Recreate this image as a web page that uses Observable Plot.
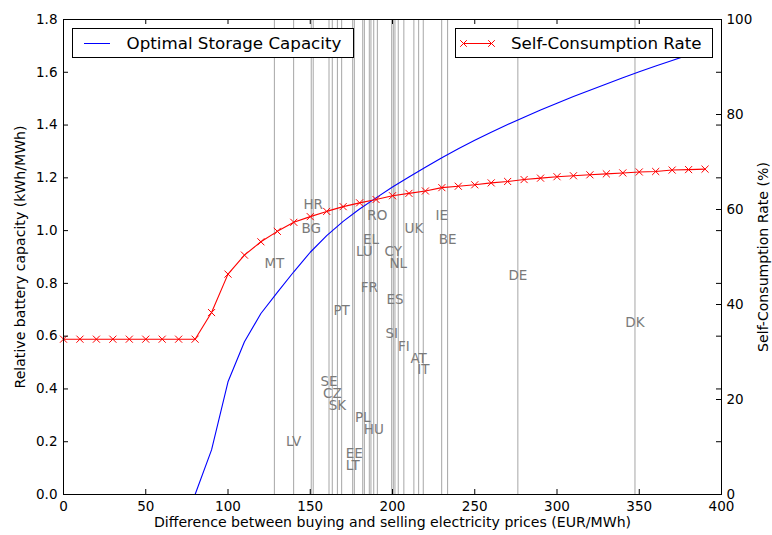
<!DOCTYPE html>
<html><head><meta charset="utf-8">
<script src="https://cdn.jsdelivr.net/npm/d3@7"></script>
<script src="https://cdn.jsdelivr.net/npm/@observablehq/plot@0.6"></script>
<style>
body{margin:0;background:#fff;font-family:"DejaVu Sans",sans-serif;}
#wrap{position:relative;width:772px;height:535px;}
.legend{position:absolute;background:#fff;border:1px solid #000;box-sizing:border-box;font-size:16.7px;color:#000;font-family:"DejaVu Sans",sans-serif;}
.legend svg{position:absolute;left:0;top:0;}
.legend span{position:absolute;white-space:nowrap;line-height:1;}
</style></head><body><div id="wrap"></div>
<script>
// price difference (EUR/MWh)
const priceDiff = [0,10,20,30,40,50,60,70,80,90,100,110,120,130,140,150,160,170,180,190,200,210,220,230,240,250,260,270,280,290,300,310,320,330,340,350,360,370,380,390];
// optimal storage capacity (kWh/MWh) - left axis
const storageCapacity = [0,0,0,0,0,0,0,0,0,0.169,0.427,0.579,0.686,0.766,0.844,0.918,0.981,1.035,1.082,1.124,1.165,1.203,1.24,1.276,1.31,1.342,1.373,1.402,1.43,1.457,1.483,1.508,1.532,1.556,1.579,1.602,1.624,1.645,1.666,1.686];
// self-consumption rate (%) - right axis
const selfConsumption = [32.7,32.7,32.7,32.7,32.7,32.7,32.7,32.7,32.7,38.3,46.4,50.4,53.2,55.4,57.3,58.5,59.6,60.6,61.4,62.1,62.9,63.4,63.9,64.6,64.9,65.2,65.6,65.9,66.3,66.6,66.9,67.1,67.3,67.5,67.7,67.9,68.0,68.3,68.4,68.5];
// countries: price difference and label height
const countries = ["MT","LV","HR","BG","SE","CZ","SK","PT","LT","EE","PL","LU","FR","EL","HU","RO","SI","CY","ES","NL","FI","UK","AT","IT","IE","BE","DE","DK"];
const countryPrice = [128.2,139.9,151.8,150.6,161.4,163.4,166.5,169.1,175.8,176.8,181.9,182.9,185.9,186.9,188.6,190.8,199.5,200.5,201.5,203.5,206.9,213,215.9,218.7,229.9,233.5,276.2,347.4];
const countryLabelY = [0.873,0.199,1.100,1.009,0.426,0.381,0.335,0.695,0.108,0.153,0.290,0.919,0.782,0.964,0.244,1.055,0.608,0.919,0.737,0.873,0.559,1.009,0.513,0.472,1.055,0.964,0.828,0.650];
const xTicks = [0,50,100,150,200,250,300,350,400];
const yTicks = [0.0,0.2,0.4,0.6,0.8,1.0,1.2,1.4,1.6,1.8];
const rateTicks = [0,20,40,60,80,100];

const k = 1.8 / 100; // right axis -> left axis units
const W = 772, H = 535, mT = 19, mR = 51, mB = 41, mL = 63;
const pW = W - mL - mR, pH = H - mT - mB;

const series = priceDiff.map((x, i) => ({x, cap: storageCapacity[i], rate: selfConsumption[i] * k}));
const labels = countries.map((c, i) => ({c, x: countryPrice[i], y: countryLabelY[i]}));
const rateT = rateTicks.map(r => r * k);

const chart = Plot.plot({
  width: W, height: H,
  marginTop: mT, marginRight: mR, marginBottom: mB, marginLeft: mL,
  style: {fontFamily: "DejaVu Sans, sans-serif", fontSize: "13.5px", color: "#000", background: "#fff"},
  x: {domain: [0, 400]},
  y: {domain: [0, 1.8]},
  marks: [
    Plot.ruleX(labels, {x: "x", stroke: "#808080", strokeOpacity: 0.7, strokeWidth: 1}),
    Plot.text(labels, {x: "x", y: "y", text: "c", fill: "#7a7a7a", fontSize: 13.5}),
    Plot.line(series, {x: "x", y: "cap", stroke: "#0000ff", strokeWidth: 1.1}),
    Plot.line(series, {x: "x", y: "rate", stroke: "#ff0000", strokeWidth: 1.1}),
    Plot.dot(series, {x: "x", y: "rate", symbol: "times", r: 3.3, stroke: "#ff0000", strokeWidth: 1}),
    Plot.frame({stroke: "#000"}),
    // inward ticks
    Plot.tickX(xTicks, {x: d => d, insetTop: pH - 5, stroke: "#000"}),
    Plot.tickX(xTicks, {x: d => d, insetBottom: pH - 5, stroke: "#000"}),
    Plot.tickY(yTicks, {y: d => d, insetRight: pW - 5, stroke: "#000"}),
    Plot.tickY(yTicks, {y: d => d, insetLeft: pW - 5, stroke: "#000"}),
    Plot.tickY(rateT, {y: d => d, insetLeft: pW - 5, stroke: "#000"}),
    // tick labels
    Plot.axisX(xTicks, {anchor: "bottom", tickSize: 0, tickPadding: 7, label: null}),
    Plot.axisY(yTicks, {anchor: "left", tickSize: 0, tickPadding: 6, tickFormat: d3.format(".1f"), label: null}),
    Plot.axisY(rateT, {anchor: "right", tickSize: 0, tickPadding: 5, tickFormat: d => Math.round(d / k), label: null}),
    // axis titles
    Plot.text(["Difference between buying and selling electricity prices (EUR/MWh)"], {frameAnchor: "bottom", dy: 32, textAnchor: "middle", text: d => d, fontSize: 14.1, fill: "#000"}),
    Plot.text(["Relative battery capacity (kWh/MWh)"], {frameAnchor: "left", dx: -43, rotate: -90, textAnchor: "middle", text: d => d, fontSize: 14.1, fill: "#000"}),
    Plot.text(["Self-Consumption Rate (%)"], {frameAnchor: "right", dx: 42, rotate: -90, textAnchor: "middle", text: d => d, fontSize: 14.1, fill: "#000"})
  ]
});
const wrap = document.getElementById("wrap");
wrap.appendChild(chart);

function legend(left, top, width, height, html) {
  const d = document.createElement("div");
  d.className = "legend";
  Object.assign(d.style, {left: left + "px", top: top + "px", width: width + "px", height: height + "px"});
  d.innerHTML = html;
  wrap.appendChild(d);
}
legend(71.5, 28, 282, 30,
  `<svg width="60" height="30"><line x1="11" x2="37" y1="14.5" y2="14.5" stroke="#0000ff" stroke-width="1"/></svg><span style="left:54px;top:6px">Optimal Storage Capacity</span>`);
legend(455, 28, 258, 30,
  `<svg width="60" height="30"><line x1="8" x2="36" y1="14.5" y2="14.5" stroke="#ff0000" stroke-width="1"/>
   <path d="M4.7,11.2L11.3,17.8M4.7,17.8L11.3,11.2M32.7,11.2L39.3,17.8M32.7,17.8L39.3,11.2" stroke="#ff0000" stroke-width="1" transform="translate(-0.5,0)"/></svg><span style="left:55px;top:6px">Self-Consumption Rate</span>`);
</script>
</body></html>
